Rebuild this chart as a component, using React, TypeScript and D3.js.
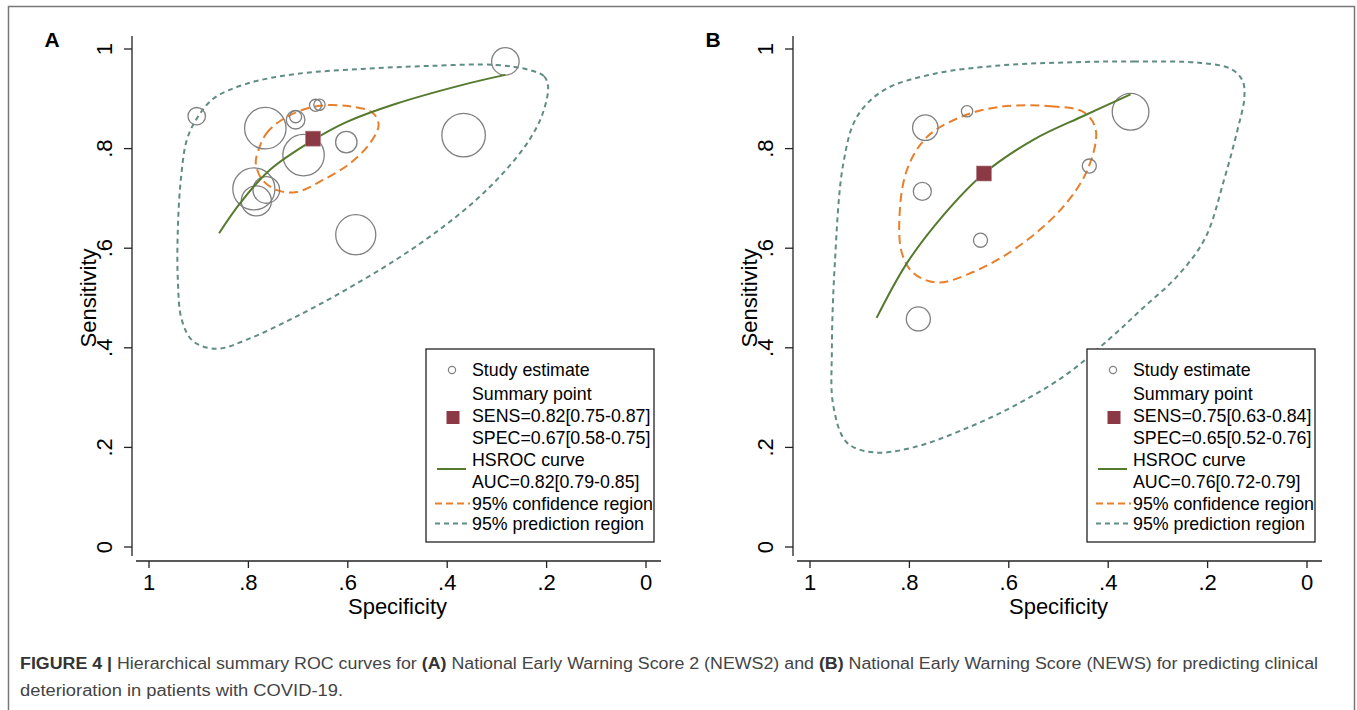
import React from 'react';
import * as d3 from 'd3';

// tick values and labels (Stata style)
const tickValues = [0, 0.2, 0.4, 0.6, 0.8, 1];
const tickLabels = ['0', '.2', '.4', '.6', '.8', '1'];

// panel A: NEWS2 studies [specificity, sensitivity, weight]
const studiesA = [
  [0.904, 0.865, 76],
  [0.283, 0.975, 188],
  [0.766, 0.841, 428],
  [0.705, 0.858, 86],
  [0.705, 0.864, 36],
  [0.665, 0.887, 36],
  [0.657, 0.888, 32],
  [0.689, 0.787, 428],
  [0.603, 0.813, 114],
  [0.367, 0.827, 471],
  [0.789, 0.719, 441],
  [0.764, 0.717, 177],
  [0.784, 0.695, 225],
  [0.584, 0.627, 400],
];
const summaryA = [0.67, 0.82];
const hsrocA = [
  [0.859, 0.63], [0.817, 0.69], [0.757, 0.757], [0.673, 0.815],
  [0.603, 0.853], [0.503, 0.89], [0.369, 0.928], [0.283, 0.948],
];
const confA = [
  [0.784, 0.783], [0.764, 0.83], [0.724, 0.863], [0.663, 0.885],
  [0.596, 0.885], [0.55, 0.872], [0.538, 0.847], [0.556, 0.81],
  [0.596, 0.77], [0.65, 0.737], [0.703, 0.713], [0.744, 0.717],
  [0.774, 0.74], [0.785, 0.77],
];
const predA = [
  [0.235, 0.958], [0.205, 0.945], [0.197, 0.924], [0.208, 0.87],
  [0.235, 0.817], [0.282, 0.757], [0.342, 0.697], [0.416, 0.637],
  [0.503, 0.577], [0.603, 0.517], [0.703, 0.463], [0.804, 0.416],
  [0.864, 0.398], [0.911, 0.413], [0.934, 0.456], [0.942, 0.537],
  [0.942, 0.637], [0.936, 0.737], [0.924, 0.817], [0.904, 0.86],
  [0.871, 0.9], [0.804, 0.93], [0.703, 0.95], [0.57, 0.96],
  [0.436, 0.966], [0.302, 0.968],
];
const legendA = [
  'SENS=0.82[0.75-0.87]',
  'SPEC=0.67[0.58-0.75]',
  'AUC=0.82[0.79-0.85]',
];

// panel B: NEWS studies
const studiesB = [
  [0.768, 0.842, 161],
  [0.684, 0.875, 32],
  [0.774, 0.714, 81],
  [0.657, 0.616, 49],
  [0.782, 0.458, 144],
  [0.438, 0.765, 49],
  [0.355, 0.874, 335],
];
const summaryB = [0.65, 0.75];
const hsrocB = [
  [0.866, 0.46], [0.805, 0.57], [0.731, 0.667], [0.65, 0.75],
  [0.55, 0.818], [0.449, 0.866], [0.355, 0.909],
];
const confB = [
  [0.617, 0.884], [0.516, 0.885], [0.449, 0.873], [0.425, 0.837],
  [0.442, 0.757], [0.496, 0.677], [0.59, 0.597], [0.684, 0.547],
  [0.745, 0.531], [0.792, 0.55], [0.815, 0.59], [0.82, 0.663],
  [0.805, 0.757], [0.765, 0.823], [0.698, 0.863],
];
const predB = [
  [0.484, 0.973], [0.348, 0.975], [0.214, 0.972], [0.153, 0.96],
  [0.13, 0.937], [0.126, 0.903], [0.14, 0.837], [0.167, 0.737],
  [0.205, 0.62], [0.26, 0.545], [0.33, 0.48], [0.395, 0.42],
  [0.489, 0.343], [0.59, 0.283], [0.691, 0.236], [0.792, 0.2],
  [0.872, 0.19], [0.926, 0.21], [0.953, 0.283], [0.956, 0.396],
  [0.95, 0.57], [0.933, 0.77], [0.906, 0.863], [0.852, 0.917],
  [0.751, 0.95], [0.617, 0.967],
];
const legendB = [
  'SENS=0.75[0.63-0.84]',
  'SPEC=0.65[0.52-0.76]',
  'AUC=0.76[0.72-0.79]',
];

const FONT = '"Liberation Sans", Arial, sans-serif';
const C_STUDY = '#808080';
const C_SUMM = '#8b3a45';
const C_HSROC = '#557a2e';
const C_CONF = '#e87f2b';
const C_PRED = '#5f8c84';

function Panel({ x0, letter, studies, summary, hsroc, conf, pred, legend }) {
  const x = d3.scaleLinear().domain([1, 0]).range([x0, x0 + 497]);
  const y = d3.scaleLinear().domain([0, 1]).range([547, 49]);
  const r = d3.scaleSqrt().domain([0, 500]).range([0, 22.4]);
  const axX = x0 - 17;
  const axY = 561;

  const open = d3.line().x(d => x(d[0])).y(d => y(d[1])).curve(d3.curveCatmullRom);
  const closed = d3.line().x(d => x(d[0])).y(d => y(d[1])).curve(d3.curveCatmullRomClosed);

  const lx = x0 + 277; // legend box left
  const ty = [370, 393.5, 416, 437.5, 460, 481.5, 503.5, 523.5];

  return (
    <g fontFamily={FONT}>
      <text x={x0 - 97} y={47} fontSize={21} fontWeight="bold" textAnchor="middle">{letter}</text>

      <path d={closed(pred)} fill="none" stroke={C_PRED} strokeWidth={2} strokeDasharray="5 4" />
      <path d={closed(conf)} fill="none" stroke={C_CONF} strokeWidth={2} strokeDasharray="9 5" />
      {studies.map((d, i) => (
        <circle key={i} cx={x(d[0])} cy={y(d[1])} r={r(d[2])} fill="none" stroke={C_STUDY} strokeWidth={1.3} />
      ))}
      <path d={open(hsroc)} fill="none" stroke={C_HSROC} strokeWidth={2} />
      <rect x={x(summary[0]) - 7.5} y={y(summary[1]) - 7.5} width={15} height={15} fill={C_SUMM} stroke="#b0808a" strokeWidth={0.6} />

      {/* y axis */}
      <line x1={axX} x2={axX} y1={36} y2={556} stroke="#222" strokeWidth={1.3} />
      {tickValues.map((t, i) => (
        <g key={'y' + i}>
          <line x1={axX - 8} x2={axX} y1={y(t)} y2={y(t)} stroke="#222" strokeWidth={1.3} />
          <text transform={`translate(${axX - 20},${y(t)}) rotate(-90)`} textAnchor="middle" fontSize={22}>{tickLabels[i]}</text>
        </g>
      ))}
      <text transform={`translate(${axX - 36},${y(0.5)}) rotate(-90)`} textAnchor="middle" fontSize={22}>Sensitivity</text>

      {/* x axis */}
      <line x1={axX + 4} x2={x(0) + 15} y1={axY} y2={axY} stroke="#222" strokeWidth={1.3} />
      {tickValues.map((t, i) => (
        <g key={'x' + i}>
          <line x1={x(t)} x2={x(t)} y1={axY} y2={axY + 7} stroke="#222" strokeWidth={1.3} />
          <text x={x(t)} y={590} textAnchor="middle" fontSize={22}>{tickLabels[i]}</text>
        </g>
      ))}
      <text x={x(0.5)} y={614} textAnchor="middle" fontSize={22}>Specificity</text>

      {/* legend */}
      <rect x={lx} y={349} width={228} height={193} fill="#fff" stroke="#222" strokeWidth={1.3} />
      <circle cx={lx + 26} cy={ty[0]} r={3.6} fill="none" stroke={C_STUDY} strokeWidth={1.2} />
      <rect x={lx + 20.5} y={ty[2] - 5} width={13} height={13} fill={C_SUMM} />
      <line x1={lx + 11} x2={lx + 40} y1={469} y2={469} stroke={C_HSROC} strokeWidth={2} />
      <line x1={lx + 9} x2={lx + 44} y1={ty[6]} y2={ty[6]} stroke={C_CONF} strokeWidth={1.8} strokeDasharray="7 4" />
      <line x1={lx + 9} x2={lx + 44} y1={ty[7]} y2={ty[7]} stroke={C_PRED} strokeWidth={1.8} strokeDasharray="5 4" />
      {['Study estimate', 'Summary point', legend[0], legend[1], 'HSROC curve', legend[2], '95% confidence region', '95% prediction region'].map((s, i) => (
        <text key={'l' + i} x={lx + 46} y={ty[i] + 6} fontSize={17.8}>{s}</text>
      ))}
    </g>
  );
}

export default function App() {
  return (
    <svg width={1357} height={710} style={{ position: 'absolute', left: 0, top: 0, background: '#fff' }}>
      <rect x={0} y={0} width={1357} height={710} fill="#fff" />
      <rect x={8.5} y={6.5} width={1346} height={760} fill="none" stroke="#777" strokeWidth={1.5} />
      <Panel x0={149} letter="A" studies={studiesA} summary={summaryA} hsroc={hsrocA} conf={confA} pred={predA} legend={legendA} />
      <Panel x0={810} letter="B" studies={studiesB} summary={summaryB} hsroc={hsrocB} conf={confB} pred={predB} legend={legendB} />
      <g fontFamily={FONT} fontSize={16} fill="#444">
        <text x={20} y={669} textLength={1298} lengthAdjust="spacingAndGlyphs">
          <tspan fontWeight="bold" fill="#333">FIGURE 4 | </tspan>
          Hierarchical summary ROC curves for <tspan fontWeight="bold" fill="#333">(A)</tspan> National Early Warning Score 2 (NEWS2) and <tspan fontWeight="bold" fill="#333">(B)</tspan> National Early Warning Score (NEWS) for predicting clinical
        </text>
        <text x={20} y={696} textLength={323} lengthAdjust="spacingAndGlyphs">deterioration in patients with COVID-19.</text>
      </g>
    </svg>
  );
}
